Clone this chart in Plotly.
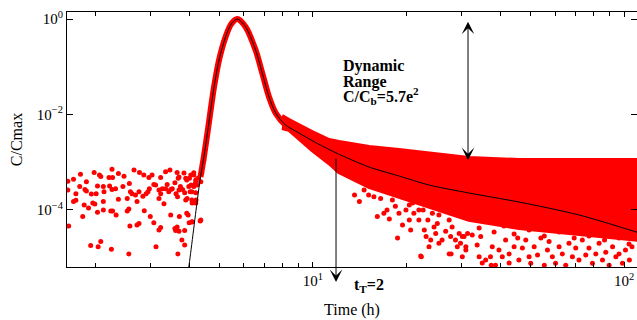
import math
import plotly.graph_objects as go

# ---------------- data ----------------
# fitted model curve (C/Cmax vs time in hours)
curve_t = [3.93, 3.99, 4.25, 4.35, 4.46, 4.58, 4.69, 4.81, 4.99, 5.24, 5.46, 5.71,
           6.07, 6.54, 6.87, 7.22, 7.59, 8.17, 9.02, 9.95, 11.84, 15.14, 18.9,
           23.6, 31.7, 45.9, 71.6, 112]
curve_c = [3.4e-6, 6.4e-6, 1.62e-4, 4.9e-4, 1.29e-3, 4.1e-3, 0.0124, 0.038, 0.138,
           0.426, 0.786, 1.0, 0.69, 0.224, 0.074, 0.0236, 0.0107, 6.0e-3, 4.1e-3,
           2.83e-3, 1.58e-3, 7.96e-4, 5.15e-4, 3.34e-4, 2.27e-4, 1.47e-4, 7.86e-5, 3.3e-5]

# envelope of the dense cloud of measured points in the tail
band_t = [7.95, 8.37, 9.93, 11.26, 12.12, 15.14, 18.9, 23.6, 31.7, 45.9, 71.6, 112]
band_hi = [9.3e-3, 7.67e-3, 4.3e-3, 2.92e-3, 2.65e-3, 2.09e-3, 1.81e-3, 1.56e-3,
           1.23e-3, 1.11e-3, 1.11e-3, 1.11e-3]
band_lo = [5.2e-3, 4.8e-3, 1.81e-3, 9.6e-4, 6.25e-4, 3.03e-4, 1.87e-4, 1.16e-4,
           6.2e-5, 4.2e-5, 3.1e-5, 2.35e-5]

# baseline noise before the peak
pre_t = [1.63, 1.70, 1.79, 1.87, 1.98, 2.06, 2.08, 2.21, 2.26, 2.27, 2.37, 2.47, 2.66,
         2.77, 2.86, 2.97, 3.04, 3.24, 3.36, 3.47, 3.66, 3.69, 3.90, 4.01, 4.14, 4.21,
         4.27,
         1.63, 1.73, 1.78, 1.85, 1.87, 1.94, 2.01, 2.03, 2.12, 2.13, 2.22, 2.26, 2.32,
         2.45, 2.57, 2.59, 2.62, 2.69, 2.76, 2.84, 2.91, 2.95, 2.98, 3.08, 3.12, 3.20,
         3.24, 3.28, 3.36, 3.40, 3.44, 3.49, 3.53, 3.60, 3.63, 3.71, 3.75, 3.81, 3.87,
         4.03, 4.06, 4.14, 4.19,
         1.70, 1.73, 1.84, 1.90, 1.96, 1.99, 2.03, 2.12, 2.12, 2.24, 2.27, 2.33, 2.37,
         2.53, 2.53, 2.56, 2.72, 2.87, 3.00, 3.20, 3.32, 3.49, 3.67, 3.72, 3.94, 3.97,
         4.09, 4.21,
         1.64, 1.82, 2.58, 2.72, 2.76, 3.08, 3.20, 3.24, 3.60, 3.62, 3.66, 3.71, 3.87,
         4.00, 4.09, 4.34, 3.79, 3.87, 1.93, 2.04, 2.08, 2.25, 2.56, 3.13, 3.68,
         3.71, 3.85, 3.93, 4.05, 4.14, 4.20, 4.24, 4.36, 3.99, 4.08, 4.20, 3.90, 4.08,
         4.20, 3.93, 4.08, 4.36, 4.39, 4.42, 4.46]
pre_c = [4.0e-4, 4.4e-4, 5.6e-4, 3.9e-4, 6.1e-4, 5.4e-4, 5.0e-4, 4.8e-4, 7.1e-4, 4.8e-4,
         5.8e-4, 5.1e-4, 6.9e-4, 6.1e-4, 5.4e-4, 4.8e-4, 5.4e-4, 4.8e-4, 6.3e-4, 6.9e-4,
         6.1e-4, 4.6e-4, 4.6e-4, 4.6e-4, 5.4e-4, 3.9e-4, 4.6e-4,
         2.62e-4, 2.2e-4, 3.1e-4, 2.7e-4, 2.5e-4, 2.15e-4, 2.2e-4, 3.2e-4, 3.1e-4,
         2.4e-4, 3.2e-4, 2.7e-4, 2.8e-4, 3.1e-4, 3.6e-4, 2.4e-4, 2.2e-4, 2.05e-4,
         2.4e-4, 1.95e-4, 2.2e-4, 2.4e-4, 2.8e-4, 3.4e-4, 3.33e-4, 2.62e-4, 2.2e-4,
         2.8e-4, 2.8e-4, 3.4e-4, 2.4e-4, 2.7e-4, 2.8e-4, 3.7e-4, 2.2e-4, 2.62e-4,
         3.1e-4, 2.7e-4, 2.3e-4, 2.4e-4, 3.33e-4, 3.1e-4, 3.6e-4,
         1.5e-4, 1.6e-4, 1.27e-4, 1.1e-4, 1.4e-4, 1.33e-4, 9.0e-5, 1.5e-4, 1.0e-4,
         9.5e-5, 9.5e-5, 7.9e-5, 1.67e-4, 1.75e-4, 9.5e-5, 1.05e-4, 1.5e-4, 9.7e-5,
         7.3e-5, 1.75e-4, 1.35e-4, 7.9e-5, 1.9e-4, 7.3e-5, 1.75e-4, 7.9e-5, 1.4e-4,
         1.62e-4,
         4.6e-5, 7.3e-5, 4.6e-5, 4.85e-5, 5.2e-5, 5.4e-5, 3.8e-5, 4.3e-5, 4.1e-5,
         3.7e-5, 4.4e-5, 3.6e-5, 3.7e-5, 5.4e-5, 5.7e-5, 5.9e-5, 2.35e-5, 1.85e-5,
         1.8e-5, 1.7e-5, 2.2e-5, 1.5e-5, 1.2e-5, 1.7e-5, 1.2e-5,
         4.9e-4, 5.96e-4, 4.25e-4, 5.4e-4, 6.0e-4, 4.25e-4, 3.33e-4, 3.9e-4, 3.1e-4,
         2.4e-4, 2.3e-4, 1.62e-4, 1.62e-4, 1.4e-4, 8.5e-5, 5.6e-5, 6.2e-5, 6.0e-4,
         8.0e-4, 1.11e-3]

# sparse measured points scattered below the dense tail cloud
tail_t = [12.1, 13.6, 14.1, 14.6, 15.1, 15.7, 16.1, 16.5, 16.9, 17.3, 17.6, 18.0, 18.4,
          18.7, 18.9, 19.4, 19.9, 20.4, 20.6, 20.9, 21.1, 21.6, 21.9, 22.3, 22.6, 22.8,
          23.1, 23.4, 23.6, 23.9, 24.2, 24.5, 24.8, 25.1, 25.4, 26.0, 26.7, 27.4, 27.7,
          28.0, 28.7, 29.1, 29.5, 29.8, 30.2, 30.6, 31.0, 31.4,
          30.2, 31.0, 32.5, 33.7, 34.2, 34.6, 35.9, 37.2, 37.7, 38.6, 39.6, 40.6, 41.6,
          42.7, 44.3, 45.5, 45.9, 47.1, 48.3, 49.5, 50.1, 51.4, 52.7, 54.0, 55.4, 56.7,
          57.4, 58.8, 60.2, 61.8, 63.3, 64.9, 66.5, 68.2, 69.9, 71.6, 73.4, 75.3, 77.1,
          79.1, 81.1, 83.1, 85.2, 87.3, 89.5, 91.8, 94.1, 96.3, 98.8, 101, 104, 106,
          22.2, 27.8, 35.0, 37.4, 42.7,
          34.2, 38.2, 41.1, 44.3, 49.5, 55.4, 61.8, 69.1, 77.1, 86.5, 96.3, 103.7,
          25.4, 27.4, 21.9, 20.4]
tail_c = [6.9e-4, 2.05e-4, 1.5e-4, 2.62e-4, 2.05e-4, 1.9e-4, 7.3e-5, 1.75e-4, 8.5e-5,
          1.0e-4, 6.5e-5, 1.62e-4, 1.2e-4, 2.6e-5, 8.5e-5, 4.85e-5, 1.0e-4, 6.2e-5,
          3.8e-5, 1.4e-4, 8.5e-5, 1.62e-4, 6.2e-5, 1.05e-5, 1.0e-4, 3.8e-5, 2.8e-5,
          6.2e-5, 1.7e-5, 2.35e-5, 8.5e-5, 4.4e-5, 3.2e-5, 5.2e-5, 2.0e-5, 2.35e-5,
          3.6e-5, 1.2e-5, 2.8e-5, 4.4e-5, 2.35e-5, 1.7e-5, 3.2e-5, 2.0e-5, 1.05e-5,
          2.8e-5, 1.45e-5, 3.2e-5,
          2.8e-5, 1.7e-5, 3.0e-5, 1.85e-5, 1.05e-5, 2.8e-5, 9.0e-6, 1.05e-5, 1.7e-5,
          7.0e-6, 1.45e-5, 1.05e-5, 2.35e-5, 1.2e-5, 1.7e-5, 2.6e-5, 9.0e-6, 1.6e-5,
          2.35e-5, 1.05e-5, 7.7e-6, 1.7e-5, 1.14e-5, 2.6e-5, 7.0e-6, 1.45e-5, 2.2e-5,
          1.05e-5, 7.7e-6, 1.7e-5, 1.2e-5, 7.0e-6, 2.0e-5, 1.05e-5, 1.6e-5, 9.0e-6,
          2.35e-5, 1.14e-5, 1.6e-5, 7.7e-6, 1.2e-5, 2.0e-5, 9.0e-6, 1.3e-5, 7.0e-6,
          1.7e-5, 1.05e-5, 1.2e-5, 7.7e-6, 1.45e-5, 9.0e-6, 1.7e-5,
          1.09e-5, 1.2e-5, 7.8e-6, 7.0e-6, 7.8e-6,
          4.2e-5, 3.46e-5, 4.62e-5, 3.14e-5, 3.81e-5, 2.85e-5, 3.46e-5, 2.6e-5, 2.85e-5,
          2.35e-5, 2.6e-5, 1.94e-5,
          7.86e-5, 6.18e-5, 1.0e-4, 1.27e-4]

# annotation values
range_t, range_top, range_bottom = 31.5, 0.878, 1.03e-3     # dynamic-range arrow
tt_t, tt_top, tt_bottom = 11.86, 1.29e-3, 3.1e-6             # t_T arrow

x_tickvals = [10, 100]
x_ticktext = ["10<sup>1</sup>", "10<sup>2</sup>"]
x_minor = [2, 3, 4, 5, 6, 7, 8, 9, 20, 30, 40, 50, 60, 70, 80, 90]
y_tickvals = [1, 1e-2, 1e-4]
y_ticktext = ["10<sup>0</sup>", "10<sup>\u22122</sup>", "10<sup>\u22124</sup>"]

# ---------------- figure ----------------
FONT = "Liberation Serif, Times New Roman, serif"
RED = "#ff0000"
L = math.log10

fig = go.Figure()

fig.add_trace(go.Scatter(
    x=band_t + band_t[::-1], y=band_hi + band_lo[::-1],
    mode="lines", fill="toself", fillcolor=RED,
    line=dict(color=RED, width=4), hoverinfo="skip", showlegend=False))

fig.add_trace(go.Scatter(
    x=curve_t[3:21], y=curve_c[3:21], mode="lines",
    line=dict(color=RED, width=6, shape="spline", smoothing=0.8),
    hoverinfo="skip", showlegend=False))

fig.add_trace(go.Scatter(
    x=pre_t + tail_t, y=pre_c + tail_c, mode="markers",
    marker=dict(color=RED, size=5, line=dict(width=0)),
    showlegend=False))

fig.add_trace(go.Scatter(
    x=curve_t, y=curve_c, mode="lines",
    line=dict(color="black", width=1, shape="spline", smoothing=0.8),
    showlegend=False))

annotations = [
    dict(x=L(range_t), y=L(range_top), ax=L(range_t), ay=L(range_bottom),
         xref="x", yref="y", axref="x", ayref="y", text="", showarrow=True,
         arrowhead=3, startarrowhead=3, arrowside="end+start",
         arrowsize=2.1, startarrowsize=2.1, arrowwidth=1, arrowcolor="black",
         standoff=0, startstandoff=0),
    dict(x=L(tt_t), y=L(tt_bottom), ax=L(tt_t), ay=L(tt_top),
         xref="x", yref="y", axref="x", ayref="y", text="", showarrow=True,
         arrowhead=3, arrowsize=2.1, arrowwidth=1, arrowcolor="black", standoff=0),
    dict(x=0.4807, y=0.790, xref="paper", yref="paper", xanchor="left", yanchor="middle",
         text="<b>Dynamic</b>", showarrow=False, font=dict(size=16, color="black", family=FONT)),
    dict(x=0.4807, y=0.724, xref="paper", yref="paper", xanchor="left", yanchor="middle",
         text="<b>Range</b>", showarrow=False, font=dict(size=16, color="black", family=FONT)),
    dict(x=0.4807, y=0.672, xref="paper", yref="paper", xanchor="left", yanchor="middle",
         text="<b>C/C<sub>b</sub>=5.7e<sup>2</sup></b>", showarrow=False,
         font=dict(size=16, color="black", family=FONT)),
    dict(x=0.50, y=-0.072, xref="paper", yref="paper", xanchor="left", yanchor="middle",
         text="<b>t<sub>T</sub>=2</b>", showarrow=False,
         font=dict(size=16, color="black", family=FONT)),
]

fig.update_layout(
    width=637, height=320,
    margin=dict(l=67, r=0, t=12, b=53),
    paper_bgcolor="white", plot_bgcolor="white",
    font=dict(family=FONT, size=15, color="black"),
    annotations=annotations,
    showlegend=False,
)

fig.update_xaxes(
    type="log", range=[L(1.62), L(110)],
    tickmode="array", tickvals=x_tickvals, ticktext=x_ticktext,
    ticks="inside", ticklen=5, tickwidth=1, tickcolor="black",
    minor=dict(tickmode="array", tickvals=x_minor, ticks="inside", ticklen=4,
               tickwidth=1, tickcolor="black", showgrid=False),
    showline=True, linecolor="black", linewidth=1, mirror="allticks",
    showgrid=False, zeroline=False,
    tickfont=dict(size=15, family=FONT),
    title=dict(text="Time (h)", font=dict(size=16, family=FONT), standoff=15),
)
fig.update_yaxes(
    type="log", range=[-5.194, 0.147],
    tickmode="array", tickvals=y_tickvals, ticktext=y_ticktext,
    ticks="inside", ticklen=6, tickwidth=1, tickcolor="black",
    showline=True, linecolor="black", linewidth=1, mirror="allticks",
    showgrid=False, zeroline=False,
    tickfont=dict(size=15, family=FONT),
    title=dict(text="C/Cmax", font=dict(size=16, family=FONT), standoff=10),
)

fig.write_html("out.html")
